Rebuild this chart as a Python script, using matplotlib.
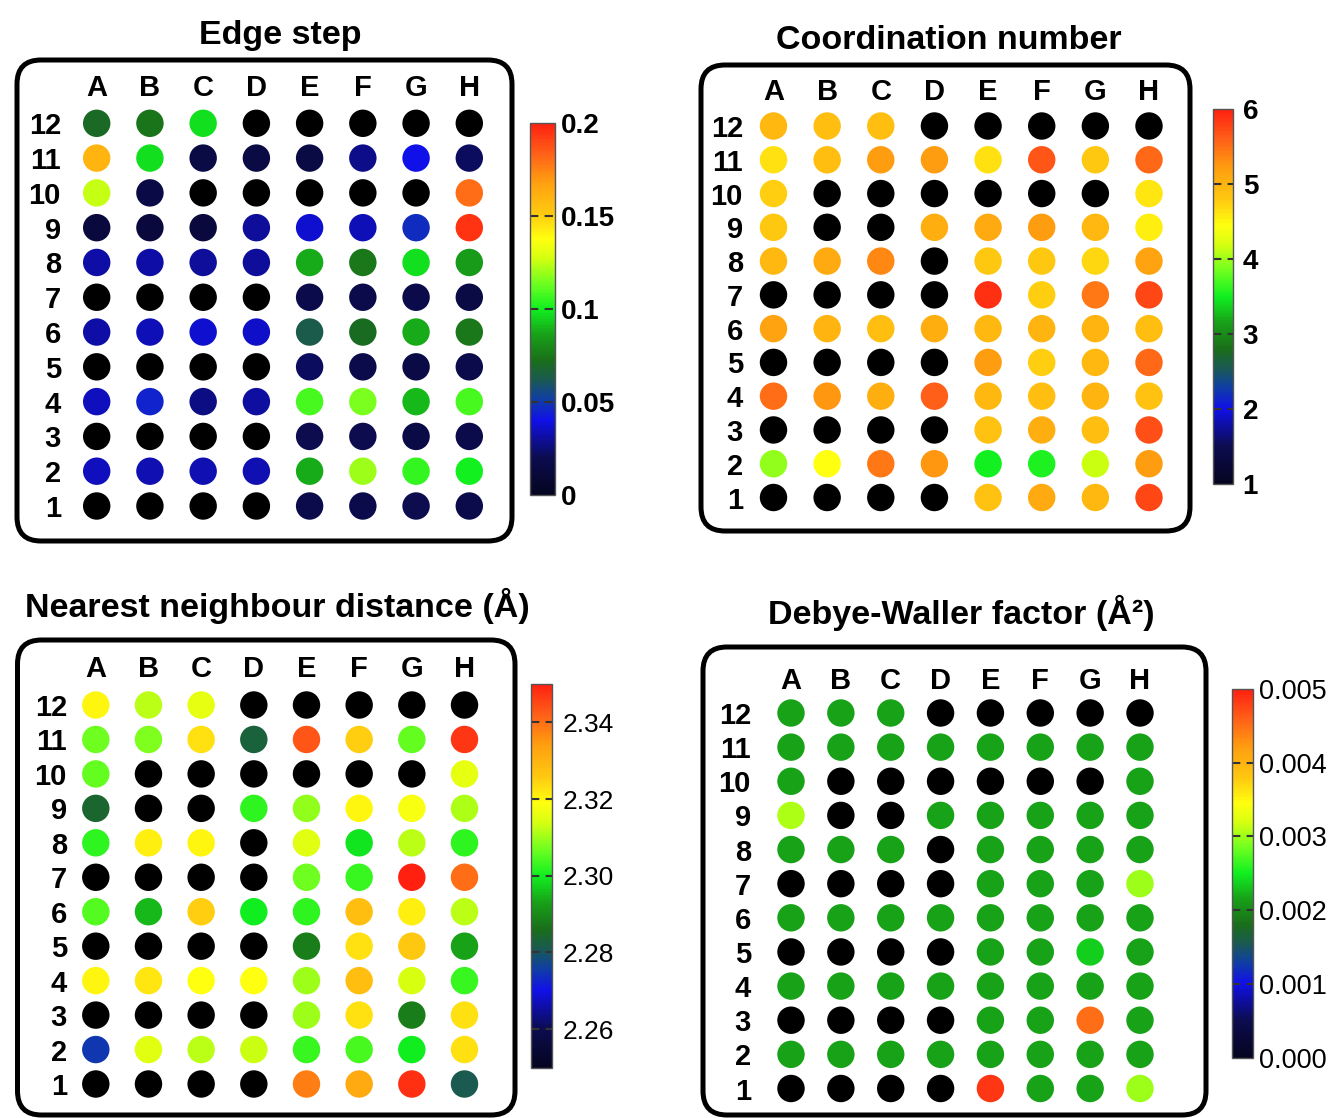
import numpy as np
import matplotlib
matplotlib.use('Agg')
import matplotlib.pyplot as plt
from matplotlib.colors import LinearSegmentedColormap
from matplotlib.patches import FancyBboxPatch
from matplotlib.transforms import blended_transform_factory

nan = np.nan

# Plaque 8 x 12 : colonnes A-H, lignes 12 (haut) -> 1 (bas) ; nan = pas de mesure
colonnes = ['A', 'B', 'C', 'D', 'E', 'F', 'G', 'H']
lignes = [12, 11, 10, 9, 8, 7, 6, 5, 4, 3, 2, 1]

edge_step = [
    [0.070, 0.074, 0.097, nan, nan, nan, nan, nan],
    [0.160, 0.097, 0.015, 0.015, 0.015, 0.028, 0.040, 0.022],
    [0.125, 0.016, nan, nan, nan, nan, nan, 0.180],
    [0.013, 0.013, 0.013, 0.030, 0.037, 0.034, 0.047, 0.195],
    [0.032, 0.032, 0.030, 0.030, 0.088, 0.075, 0.097, 0.085],
    [nan, nan, nan, nan, 0.018, 0.018, 0.018, 0.015],
    [0.032, 0.034, 0.037, 0.036, 0.063, 0.071, 0.088, 0.075],
    [nan, nan, nan, nan, 0.022, 0.018, 0.016, 0.018],
    [0.035, 0.045, 0.027, 0.031, 0.108, 0.115, 0.090, 0.108],
    [nan, nan, nan, nan, 0.020, 0.020, 0.016, 0.018],
    [0.035, 0.033, 0.033, 0.033, 0.088, 0.120, 0.105, 0.100],
    [nan, nan, nan, nan, 0.018, 0.018, 0.020, 0.018],
]

coord_num = [
    [4.95, 4.90, 4.90, nan, nan, nan, nan, nan],
    [4.65, 4.90, 5.20, 5.20, 4.65, 5.65, 4.80, 5.55],
    [4.75, nan, nan, nan, nan, nan, nan, 4.60],
    [4.80, nan, nan, 5.05, 5.10, 5.20, 4.95, 4.55],
    [4.95, 5.10, 5.35, nan, 4.80, 4.80, 4.70, 5.15],
    [nan, nan, nan, nan, 5.90, 4.75, 5.45, 5.75],
    [5.15, 5.00, 4.90, 5.05, 4.95, 5.00, 5.00, 4.90],
    [nan, nan, nan, nan, 5.20, 4.75, 4.95, 5.55],
    [5.50, 5.25, 5.05, 5.60, 4.95, 4.90, 5.00, 4.85],
    [nan, nan, nan, nan, 4.85, 5.05, 4.90, 5.70],
    [3.95, 4.45, 5.45, 5.25, 3.50, 3.55, 4.15, 5.20],
    [nan, nan, nan, nan, 4.85, 5.10, 4.95, 5.75],
]

nn_dist = [
    [2.320, 2.312, 2.316, nan, nan, nan, nan, nan],
    [2.307, 2.308, 2.323, 2.283, 2.343, 2.325, 2.306, 2.347],
    [2.306, nan, nan, nan, nan, nan, nan, 2.316],
    [2.284, nan, nan, 2.302, 2.309, 2.320, 2.318, 2.311],
    [2.302, 2.321, 2.320, nan, 2.315, 2.299, 2.312, 2.302],
    [nan, nan, nan, nan, 2.307, 2.303, 2.350, 2.340],
    [2.305, 2.295, 2.325, 2.300, 2.302, 2.328, 2.321, 2.312],
    [nan, nan, nan, nan, 2.288, 2.323, 2.326, 2.293],
    [2.320, 2.322, 2.319, 2.319, 2.310, 2.328, 2.314, 2.303],
    [nan, nan, nan, nan, 2.310, 2.323, 2.288, 2.323],
    [2.275, 2.315, 2.312, 2.313, 2.303, 2.304, 2.300, 2.323],
    [nan, nan, nan, nan, 2.338, 2.332, 2.348, 2.281],
]

dw_factor = [
    [0.00215, 0.00215, 0.00215, nan, nan, nan, nan, nan],
    [0.00215, 0.00215, 0.00215, 0.00215, 0.00215, 0.00215, 0.00215, 0.00215],
    [0.00215, nan, nan, nan, nan, nan, nan, 0.00215],
    [0.00305, nan, nan, 0.00215, 0.00215, 0.00215, 0.00215, 0.00215],
    [0.00215, 0.00215, 0.00215, nan, 0.00215, 0.00215, 0.00215, 0.00215],
    [nan, nan, nan, nan, 0.00215, 0.00215, 0.00215, 0.00300],
    [0.00215, 0.00215, 0.00215, 0.00215, 0.00215, 0.00215, 0.00215, 0.00215],
    [nan, nan, nan, nan, 0.00215, 0.00215, 0.00235, 0.00215],
    [0.00215, 0.00215, 0.00215, 0.00215, 0.00215, 0.00215, 0.00215, 0.00215],
    [nan, nan, nan, nan, 0.00215, 0.00215, 0.00450, 0.00215],
    [0.00215, 0.00215, 0.00215, 0.00215, 0.00215, 0.00215, 0.00215, 0.00215],
    [nan, nan, nan, nan, 0.00485, 0.00215, 0.00215, 0.00300],
]

ticks_edge = [0, 0.05, 0.1, 0.15, 0.2]
labels_edge = ['0', '0.05', '0.1', '0.15', '0.2']
ticks_cn = [1, 2, 3, 4, 5, 6]
labels_cn = ['1', '2', '3', '4', '5', '6']
ticks_nn = [2.26, 2.28, 2.30, 2.32, 2.34]
labels_nn = ['2.26', '2.28', '2.30', '2.32', '2.34']
ticks_dw = [0, 0.001, 0.002, 0.003, 0.004, 0.005]
labels_dw = ['0.000', '0.001', '0.002', '0.003', '0.004', '0.005']

W, H, DPI = 1333, 1118, 100

plt.rcParams['font.family'] = ['Liberation Sans', 'DejaVu Sans']

# echelle noir-bleu-vert-jaune-rouge, cases vides en noir
cmap = LinearSegmentedColormap.from_list('plaque', [
    (0.00, '#050520'), (0.10, '#0c0c50'), (0.20, '#1010e8'),
    (0.26, '#1040a0'), (0.31, '#1a5a50'), (0.36, '#1a6e1a'),
    (0.43, '#18a018'), (0.50, '#10f020'), (0.57, '#70ff20'),
    (0.64, '#d8ff10'), (0.69, '#ffff10'), (0.76, '#ffc810'),
    (0.84, '#ffa010'), (0.92, '#ff6018'), (1.00, '#ff2010'),
]).with_extremes(bad='black')

fig = plt.figure(figsize=(W / DPI, H / DPI), dpi=DPI)


def panneau(valeurs, vmin, vmax, ticks, tick_labels, titre, cadre, grille,
            y_col, x_lig, barre, pos_titre, cb_gras, cb_taille, cb_pad):
    # cadre, grille, barre... en pixels depuis le coin haut gauche
    l, t, r, b = cadre
    ax = fig.add_axes([l / W, 1 - b / H, (r - l) / W, (b - t) / H])
    ax.axis('off')
    c0, c7, r12, r1 = grille
    dx = (c7 - c0) / 7
    dy = (r1 - r12) / 11
    ax.set_xlim((l - c0) / dx, (r - c0) / dx)
    ax.set_ylim(1 - (b - r1) / dy, 12 + (r12 - t) / dy)

    z = np.array(valeurs, dtype=float)
    xx, yy = np.meshgrid(np.arange(len(colonnes)), lignes)
    sc = ax.scatter(xx.ravel(), yy.ravel(), c=z.ravel(), cmap=cmap,
                    vmin=vmin, vmax=vmax, s=390, linewidths=0,
                    plotnonfinite=True)

    # cadre arrondi
    fig.add_artist(FancyBboxPatch((l / DPI, (H - b) / DPI), (r - l) / DPI, (b - t) / DPI,
                                  boxstyle='round,pad=0,rounding_size=0.24',
                                  transform=fig.dpi_scale_trans, fill=False,
                                  lw=3.6, ec='black'))

    tr_col = blended_transform_factory(ax.transData, ax.transAxes)
    for i, lettre in enumerate(colonnes):
        ax.text(i, (b - y_col) / (b - t), lettre, transform=tr_col,
                ha='center', va='baseline', fontsize=21, fontweight='bold')
    tr_lig = blended_transform_factory(ax.transAxes, ax.transData)
    for n in lignes:
        ax.text((x_lig - l) / (r - l), n, str(n), transform=tr_lig,
                ha='right', va='center_baseline', fontsize=21, fontweight='bold')

    fig.text(pos_titre[0] / W, 1 - pos_titre[1] / H, titre, ha='center',
             va='baseline', fontsize=24.5, fontweight='bold')

    x0, top, x1, bot = barre
    cax = fig.add_axes([x0 / W, 1 - bot / H, (x1 - x0) / W, (bot - top) / H])
    cb = fig.colorbar(sc, cax=cax)
    cb.set_ticks(ticks, labels=tick_labels, fontsize=cb_taille,
                 fontweight='bold' if cb_gras else 'normal')
    cax.tick_params(length=0, pad=cb_pad)
    cb.outline.set_edgecolor('#555555')
    cb.outline.set_linewidth(1)
    for v in ticks:
        if vmin < v < vmax:
            cax.axhline(v, color='#333333', lw=1.5, ls=(0, (4, 3)))


panneau(edge_step, 0, 0.2, ticks_edge, labels_edge, 'Edge step',
        cadre=(17, 60, 512, 541), grille=(96.7, 469.3, 123.3, 506),
        y_col=95.5, x_lig=61, barre=(530, 123, 555, 495),
        pos_titre=(280.5, 44), cb_gras=True, cb_taille=20, cb_pad=4)

panneau(coord_num, 1, 6, ticks_cn, labels_cn, 'Coordination number',
        cadre=(701, 65, 1190, 531), grille=(773.5, 1149, 126, 497.5),
        y_col=100, x_lig=743, barre=(1213, 109, 1233, 484),
        pos_titre=(949, 49), cb_gras=True, cb_taille=20, cb_pad=7)

panneau(nn_dist, 2.25, 2.35, ticks_nn, labels_nn, 'Nearest neighbour distance (Å)',
        cadre=(17.5, 640, 515, 1115), grille=(95.8, 464.5, 705, 1084),
        y_col=677, x_lig=67, barre=(531, 684, 552, 1067.5),
        pos_titre=(277, 617), cb_gras=False, cb_taille=19, cb_pad=8)

panneau(dw_factor, 0, 0.005, ticks_dw, labels_dw, 'Debye-Waller factor (Å²)',
        cadre=(703, 647, 1206, 1115), grille=(791, 1140, 713, 1088.5),
        y_col=689, x_lig=751, barre=(1232, 689, 1252.5, 1057.5),
        pos_titre=(961, 624), cb_gras=False, cb_taille=19.5, cb_pad=5)

fig.savefig('out.png', dpi=DPI)
